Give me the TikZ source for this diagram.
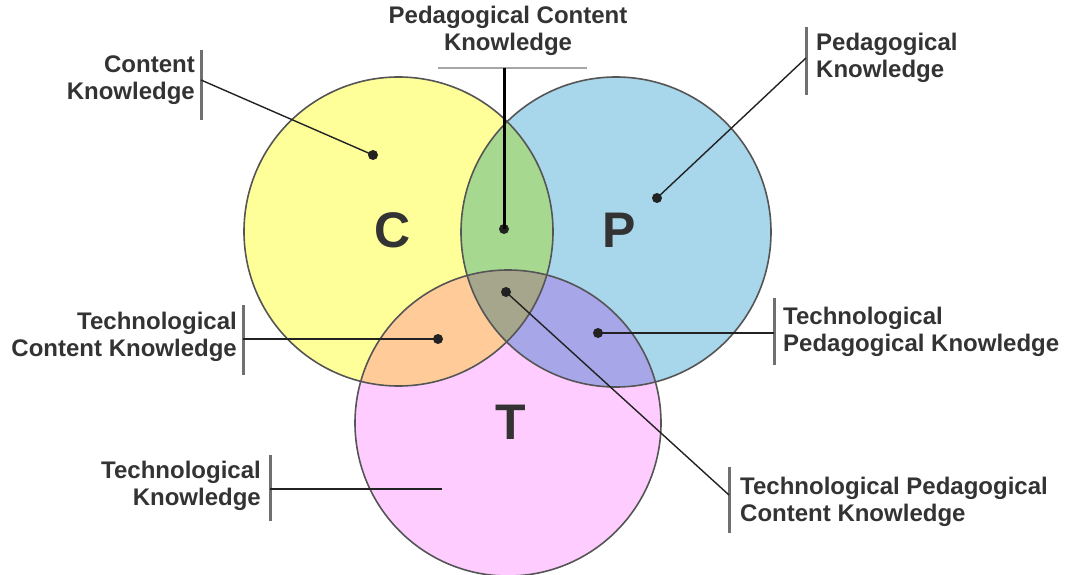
\documentclass[tikz,border=0pt]{standalone}
\usepackage{fontspec}
\setmainfont{Liberation Sans}
\definecolor{cyel}{HTML}{FFFF99}
\definecolor{cblu}{HTML}{A8D6EA}
\definecolor{cpnk}{HTML}{FFCCFF}
\definecolor{cgrn}{HTML}{A6D98F}
\definecolor{corg}{HTML}{FFCC99}
\definecolor{cpur}{HTML}{A6A6E8}
\definecolor{coli}{HTML}{A6A68C}
\definecolor{txt}{HTML}{333333}
\definecolor{bargray}{HTML}{707070}
\definecolor{outl}{HTML}{555555}
\definecolor{linec}{HTML}{222222}
\begin{document}
\begin{tikzpicture}[x=1pt,y=-1pt,
  lbl/.style={font=\fontsize{24}{27}\selectfont\bfseries, text=txt, inner sep=0pt},
  bar/.style={draw=bargray, line width=3pt},
  conn/.style={draw=linec, line width=1.4pt},
  dotn/.style={circle, fill=linec, inner sep=0pt, minimum size=10pt},
  big/.style={font=\fontsize{50}{50}\selectfont\bfseries, text=txt, inner sep=0pt},
  ring/.style={draw=outl, line width=1.6pt}]
\useasboundingbox (0,0) rectangle (1066,575);
\coordinate (cC) at (398.5,231.5);
\coordinate (cP) at (616,232);
\coordinate (cT) at (508,423);
\def\rC{154.5pt}\def\rP{155pt}\def\rT{153pt}
% fills
\fill[cyel] (cC) circle[radius=\rC];
\fill[cblu] (cP) circle[radius=\rP];
\fill[cpnk] (cT) circle[radius=\rT];
\begin{scope}
  \clip (cC) circle[radius=\rC];
  \fill[cgrn] (cP) circle[radius=\rP];
  \fill[corg] (cT) circle[radius=\rT];
\end{scope}
\begin{scope}
  \clip (cP) circle[radius=\rP];
  \fill[cpur] (cT) circle[radius=\rT];
\end{scope}
\begin{scope}
  \clip (cC) circle[radius=\rC];
  \clip (cP) circle[radius=\rP];
  \fill[coli] (cT) circle[radius=\rT];
\end{scope}
\draw[ring] (cC) circle[radius=\rC];
\draw[ring] (cP) circle[radius=\rP];
\draw[ring] (cT) circle[radius=\rT];
% big letters
\node[big] (lC) at (393,230) {C};
\node[big] (lP) at (619,230) {P};
\node[big] (lT) at (511,422) {T};
% dots
\node[dotn] (dCK) at (373,155) {};
\node[dotn] (dPK) at (657,198) {};
\node[dotn] (dPCK) at (504,229) {};
\node[dotn] (dTPCK) at (506,292) {};
\node[dotn] (dTCK) at (438,339) {};
\node[dotn] (dTPK) at (598,333) {};
\coordinate (dTK) at (442,489);
% labels
\node[lbl, align=center, anchor=south] (tPCK) at (508,56) {Pedagogical Content\\Knowledge};
\node[lbl, align=right, anchor=east] (tCK) at (195,80) {Content\\Knowledge};
\node[lbl, align=left, anchor=west] (tPK) at (816,58) {Pedagogical\\Knowledge};
\node[lbl, align=right, anchor=east] (tTCK) at (237,337) {Technological\\Content Knowledge};
\node[lbl, align=left, anchor=west] (tTPK) at (783,332) {Technological\\Pedagogical Knowledge};
\node[lbl, align=right, anchor=east] (tTK) at (261,486) {Technological\\Knowledge};
\node[lbl, align=left, anchor=west] (tTPCK) at (740,502) {Technological Pedagogical\\Content Knowledge};
% bars
\draw[draw=gray!70, line width=2pt] (438,68) coordinate (bPCKa) -- (587,68) coordinate (bPCKb);
\coordinate (bPCK) at (504,68);
\draw[bar] (201,50) -- (201,120);  \coordinate (bCK) at (201,80);
\draw[bar] (806,27) -- (806,95);   \coordinate (bPK) at (806,58);
\draw[bar] (243,305) -- (243,375); \coordinate (bTCK) at (243,339);
\draw[bar] (774,298) -- (774,365); \coordinate (bTPK) at (774,333);
\draw[bar] (270,455) -- (270,521); \coordinate (bTK) at (270,489);
\draw[bar] (729,467) -- (729,533); \coordinate (bTPCK) at (729,495);
% connectors
\draw[draw=black, line width=3pt] (bPCK) -- (dPCK.center);
\draw[conn] (bCK) -- (dCK.center);
\draw[conn] (bPK) -- (dPK.center);
\draw[conn] (bTCK) -- (dTCK.center);
\draw[conn] (bTPK) -- (dTPK.center);
\draw[conn] (bTK) -- (dTK);
\draw[conn] (bTPCK) -- (dTPCK.center);
\end{tikzpicture}
\end{document}
